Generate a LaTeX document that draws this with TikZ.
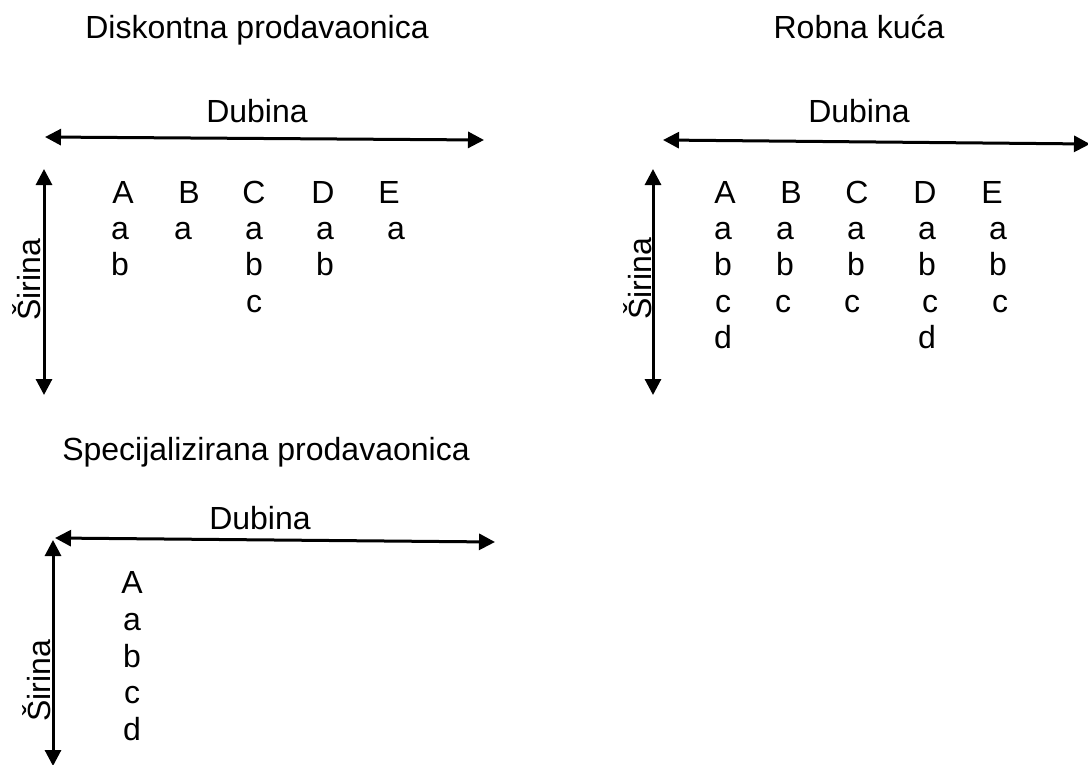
\documentclass[tikz,border=0pt]{standalone}
\usepackage{fontspec}
\setmainfont{Liberation Sans}
\usetikzlibrary{arrows.meta}
\tikzset{
  lbl/.style={inner sep=0pt, anchor=base, font=\fontsize{32}{36}\selectfont},
  vlbl/.style={lbl, rotate=90},
  axis/.style={line width=3pt, {Triangle[length=16pt,width=16pt]}-{Triangle[length=16pt,width=16pt]}}
}
\begin{document}
\begin{tikzpicture}[x=1pt,y=-1pt]
\useasboundingbox (0,0) rectangle (1088,764);
% ---------- Panel 1 ----------
\node[lbl] (t1) at (257,38) {Diskontna prodavaonica};
\node[lbl] (d1) at (257,122) {Dubina};
\coordinate (h1l) at (45,137);
\coordinate (h1r) at (484,140);
\coordinate (v1t) at (44,169);
\coordinate (v1b) at (44,395);
\draw[axis] (h1l) -- (h1r);
\draw[axis] (v1t) -- (v1b);
\node[vlbl] (s1) at (40,280) {Širina};
\node[lbl] (p1A) at (123,203) {A};
\node[lbl] (p1B) at (189,203) {B};
\node[lbl] (p1C) at (254,203) {C};
\node[lbl] (p1D) at (323,203) {D};
\node[lbl] (p1E) at (389,203) {E};
\node[lbl] (p1Aa) at (120,239) {a};
\node[lbl] (p1Ba) at (183,239) {a};
\node[lbl] (p1Ca) at (254,239) {a};
\node[lbl] (p1Da) at (325,239) {a};
\node[lbl] (p1Ea) at (396,239) {a};
\node[lbl] (p1Ab) at (120,275) {b};
\node[lbl] (p1Cb) at (254,275) {b};
\node[lbl] (p1Db) at (325,275) {b};
\node[lbl] (p1Cc) at (254,312) {c};
% ---------- Panel 2 ----------
\node[lbl] (t2) at (859,38) {Robna kuća};
\node[lbl] (d2) at (859,122) {Dubina};
\coordinate (h2l) at (663,140);
\coordinate (h2r) at (1090,144);
\coordinate (v2t) at (653,169);
\coordinate (v2b) at (653,395);
\draw[axis] (h2l) -- (h2r);
\draw[axis] (v2t) -- (v2b);
\node[vlbl] (s2) at (651,279) {Širina};
\node[lbl] (p2A) at (725,203) {A};
\node[lbl] (p2B) at (791,203) {B};
\node[lbl] (p2C) at (857,203) {C};
\node[lbl] (p2D) at (925,203) {D};
\node[lbl] (p2E) at (992,203) {E};
\node[lbl] (p2Aa) at (723,239) {a};
\node[lbl] (p2Ba) at (785,239) {a};
\node[lbl] (p2Ca) at (856,239) {a};
\node[lbl] (p2Da) at (927,239) {a};
\node[lbl] (p2Ea) at (998,239) {a};
\node[lbl] (p2Ab) at (723,275) {b};
\node[lbl] (p2Bb) at (785,275) {b};
\node[lbl] (p2Cb) at (856,275) {b};
\node[lbl] (p2Db) at (927,275) {b};
\node[lbl] (p2Eb) at (998,275) {b};
\node[lbl] (p2Ac) at (723,312) {c};
\node[lbl] (p2Bc) at (783,312) {c};
\node[lbl] (p2Cc) at (852,312) {c};
\node[lbl] (p2Dc) at (930,312) {c};
\node[lbl] (p2Ec) at (1000,312) {c};
\node[lbl] (p2Ad) at (723,348) {d};
\node[lbl] (p2Dd) at (927,348) {d};
% ---------- Panel 3 ----------
\node[lbl] (t3) at (266,460) {Specijalizirana prodavaonica};
\node[lbl] (d3) at (260,529) {Dubina};
\coordinate (h3l) at (55,538);
\coordinate (h3r) at (495,542);
\coordinate (v3t) at (53,540);
\coordinate (v3b) at (53,766);
\draw[axis] (h3l) -- (h3r);
\draw[axis] (v3t) -- (v3b);
\node[vlbl] (s3) at (50,681) {Širina};
\node[lbl] (p3A) at (132,593) {A};
\node[lbl] (p3a) at (132,630) {a};
\node[lbl] (p3b) at (132,667) {b};
\node[lbl] (p3c) at (132,703) {c};
\node[lbl] (p3d) at (132,740) {d};
\end{tikzpicture}
\end{document}
